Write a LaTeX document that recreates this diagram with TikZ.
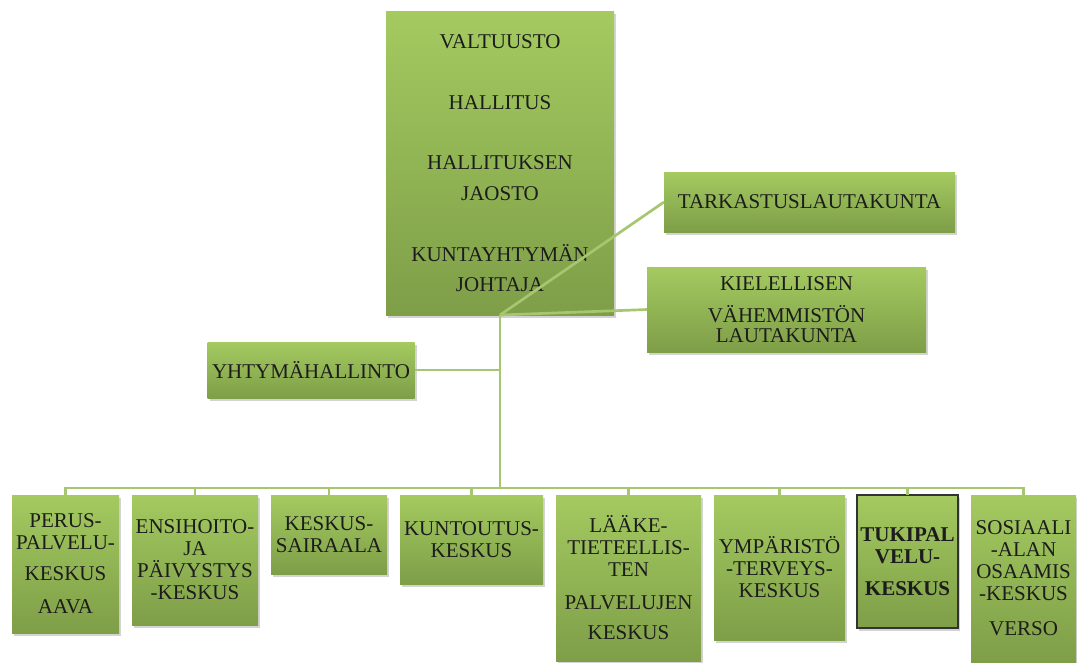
\documentclass[tikz,border=0pt]{standalone}
\usepackage{fontspec}
\setmainfont{Liberation Serif}
\usetikzlibrary{positioning,shadows}
\definecolor{boxtop}{RGB}{164,202,96}
\definecolor{boxbot}{RGB}{126,158,72}
\definecolor{linkgreen}{RGB}{166,198,112}
\definecolor{inkgray}{RGB}{28,28,28}

\begin{document}
\begin{tikzpicture}[x=0.75pt,y=-0.75pt,
	unit/.style={rectangle,top color=boxtop,bottom color=boxbot,text=inkgray,align=center,inner sep=0pt,outer sep=0pt,font=\fontsize{15.75}{16.5}\selectfont,drop shadow={shadow xshift=1.5pt,shadow yshift=-2.5pt,opacity=0.35}},
	link/.style={draw=linkgreen,line width=2pt}]
		\useasboundingbox (0,0) rectangle (1077,662);

		\node[unit,minimum width=171pt,minimum height=228pt,font=\fontsize{15.75}{22.8}\selectfont]	(valtuusto)	at (500,163)	{VALTUUSTO\\[22.8pt]HALLITUS\\[22.8pt]HALLITUKSEN\\JAOSTO\\[22.8pt]KUNTAYHTYMÄN\\JOHTAJA};
		\node[unit,minimum width=218.25pt,minimum height=45pt]		(tarkastus)		at (809.5,202)	{TARKASTUSLAUTAKUNTA};
		\node[unit,minimum width=209.25pt,minimum height=63.75pt]	(kielellisen)	at (786.5,309.5)	{KIELELLISEN\\[7.5pt]VÄHEMMISTÖN\\[-1.5pt]LAUTAKUNTA};
		\node[unit,minimum width=155.25pt,minimum height=42pt]		(yhtyma)		at (311,370)	{YHTYMÄHALLINTO};

		\node[unit,anchor=north west,minimum width=80.25pt,minimum height=103.5pt]						(perus)		at (12,495)	{PERUS-\\PALVELU-\\[6.75pt]KESKUS\\[8.25pt]AAVA};
		\node[unit,right=9.75pt of perus.north east,anchor=north west,minimum width=94.5pt,minimum height=97.5pt]		(ensihoito)		{ENSIHOITO-\\JA\\PÄIVYSTYS\\-KESKUS};
		\node[unit,right=9.75pt of ensihoito.north east,anchor=north west,minimum width=87pt,minimum height=59.25pt]	(sairaala)		{KESKUS-\\SAIRAALA};
		\node[unit,right=9.75pt of sairaala.north east,anchor=north west,minimum width=107.25pt,minimum height=66.75pt]	(kuntoutus)		{KUNTOUTUS-\\KESKUS};
		\node[unit,right=9.75pt of kuntoutus.north east,anchor=north west,minimum width=108.75pt,minimum height=124.5pt]	(laake)		{LÄÄKE-\\TIETEELLIS-\\TEN\\[8.25pt]PALVELUJEN\\[6pt]KESKUS};
		\node[unit,right=9.75pt of laake.north east,anchor=north west,minimum width=98.25pt,minimum height=108.75pt]		(ymparisto)		{YMPÄRISTÖ\\-TERVEYS-\\KESKUS};
		\node[unit,right=9pt of ymparisto.north east,anchor=north west,minimum width=75.75pt,minimum height=99.75pt,draw=black!80,line width=1.5pt,font=\fontsize{15.75}{16.5}\selectfont\bfseries]	(tuki)	{TUKIPAL\\VELU-\\[7.5pt]KESKUS};
		\node[unit,right=9.75pt of tuki.north east,anchor=north west,minimum width=78.75pt,minimum height=125.25pt]		(sosiaali)		{SOSIAALI\\-ALAN\\OSAAMIS\\-KESKUS\\[9.75pt]VERSO};

		\coordinate (hub) at (500,488);

		\draw[link] (valtuusto.south) -- (tarkastus.west);
		\draw[link] (valtuusto.south) -- (kielellisen.west);
		\draw[link] (valtuusto.south) -- (hub);
		\draw[link] (yhtyma.east) -- (yhtyma.east -| hub);
		\foreach \n in {perus,ensihoito,sairaala,kuntoutus,laake,ymparisto,tuki,sosiaali}
			\draw[link] (hub) -| (\n.north);
	\end{tikzpicture}
\end{document}
